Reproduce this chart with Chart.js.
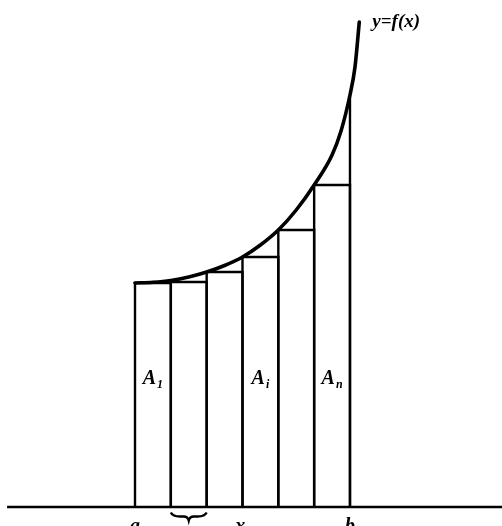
<!DOCTYPE html>
<html>
<head>
<meta charset="utf-8">
<script src="https://cdn.jsdelivr.net/npm/chart.js@4"></script>
<style>
html,body{margin:0;padding:0;background:#fff;}
#wrap{width:502px;height:526px;}
</style>
</head>
<body>
<div id="wrap"><canvas id="c" width="502" height="526"></canvas></div>
<script>
// Partition points (a = 0, b = 6) and left-endpoint rectangle heights
const partition = [0, 1, 2, 3, 4, 5, 6];
const rectHeights = [2.24, 2.25, 2.35, 2.50, 2.77, 3.22];
const heightAtB = 4.12;
// Curve y = f(x)
const curveT = [0, 0.5, 1, 1.5, 2, 2.5, 3, 3.5, 4, 4.5, 5, 5.5, 5.75, 6, 6.14, 6.26];
const curveV = [2.24, 2.247, 2.265, 2.30, 2.35, 2.415, 2.50, 2.62, 2.77, 2.97, 3.22, 3.52, 3.76, 4.12, 4.40, 4.85];
// Labels
const axisLabels = [{t: 0, main: 'a', sub: ''}, {t: 3, main: 'x', sub: 'i'}, {t: 6, main: 'b', sub: ''}];
const areaLabels = [{t: 0.5, main: 'A', sub: '1'}, {t: 3.5, main: 'A', sub: 'i'}, {t: 5.5, main: 'A', sub: 'n'}];
const curveLabel = 'y=f(x)';
const braceSpan = [1, 2];
const baselineSpan = [-3.57, 10.3];

const black = '#000';
const datasets = [];
// baseline
datasets.push({data: [{x: baselineSpan[0], y: 0}, {x: baselineSpan[1], y: 0}], borderColor: black, borderWidth: 2.4, pointRadius: 0, tension: 0});
// rectangles
for (let i = 0; i < rectHeights.length; i++) {
  const x0 = partition[i], x1 = partition[i + 1], h = rectHeights[i];
  datasets.push({data: [{x: x0, y: 0}, {x: x0, y: h}, {x: x1, y: h}, {x: x1, y: 0}], borderColor: black, borderWidth: 2.4, pointRadius: 0, tension: 0});
}
// vertical at b up to the curve
datasets.push({data: [{x: partition[6], y: 0}, {x: partition[6], y: heightAtB}], borderColor: black, borderWidth: 2.4, pointRadius: 0, tension: 0});
// curve
datasets.push({data: curveT.map((t, i) => ({x: t, y: curveV[i]})), borderColor: black, borderWidth: 3.6, pointRadius: 0, cubicInterpolationMode: 'monotone', borderCapStyle: 'round'});

const FONT = '"Liberation Serif", "DejaVu Serif", serif';

function drawSubLabel(ctx, x, y, main, sub, size, center) {
  ctx.font = 'italic bold ' + size + 'px ' + FONT;
  const wm = ctx.measureText(main).width;
  ctx.font = 'italic bold ' + Math.round(size * 0.62) + 'px ' + FONT;
  const ws = sub ? ctx.measureText(sub).width + 1 : 0;
  const total = wm + ws;
  let sx = center ? x - total / 2 : x;
  ctx.font = 'italic bold ' + size + 'px ' + FONT;
  ctx.fillText(main, sx, y);
  if (sub) {
    ctx.font = 'italic bold ' + Math.round(size * 0.62) + 'px ' + FONT;
    ctx.fillText(sub, sx + wm + 1, y + size * 0.18);
  }
}

const labelsPlugin = {
  id: 'labels',
  afterDatasetsDraw(chart) {
    const ctx = chart.ctx;
    const xs = chart.scales.x, ys = chart.scales.y;
    ctx.save();
    ctx.fillStyle = black;
    ctx.textBaseline = 'alphabetic';
    ctx.textAlign = 'left';
    areaLabels.forEach(l => drawSubLabel(ctx, xs.getPixelForValue(l.t), ys.getPixelForValue(1.23), l.main, l.sub, 20, true));
    axisLabels.forEach(l => drawSubLabel(ctx, xs.getPixelForValue(l.t), ys.getPixelForValue(0) + 25, l.main, l.sub, 20, true));
    // curve label
    ctx.font = 'italic bold 19px ' + FONT;
    ctx.fillText(curveLabel, xs.getPixelForValue(curveT[curveT.length - 1]) + 13, ys.getPixelForValue(curveV[curveV.length - 1]) + 5);
    // brace
    const bx0 = xs.getPixelForValue(braceSpan[0]), bx1 = xs.getPixelForValue(braceSpan[1]);
    const by = ys.getPixelForValue(0) + 5.5;
    const mx = (bx0 + bx1) / 2;
    ctx.strokeStyle = black;
    ctx.lineWidth = 2.4;
    ctx.beginPath();
    ctx.moveTo(bx0, by);
    ctx.quadraticCurveTo(bx0 + 2, by + 4, bx0 + 9, by + 4);
    ctx.lineTo(mx - 5, by + 4);
    ctx.quadraticCurveTo(mx - 1, by + 4, mx, by + 8);
    ctx.quadraticCurveTo(mx + 1, by + 4, mx + 5, by + 4);
    ctx.lineTo(bx1 - 9, by + 4);
    ctx.quadraticCurveTo(bx1 - 2, by + 4, bx1, by);
    ctx.stroke();
    ctx.restore();
  }
};

new Chart(document.getElementById('c'), {
  type: 'line',
  data: {datasets},
  options: {
    responsive: false,
    animation: false,
    events: [],
    layout: {padding: 0},
    plugins: {legend: {display: false}, tooltip: {enabled: false}},
    scales: {
      x: {type: 'linear', display: false, min: -3.768, max: 10.243},
      y: {type: 'linear', display: false, min: -0.19, max: 5.07}
    }
  },
  plugins: [labelsPlugin]
});
</script>
</body>
</html>
